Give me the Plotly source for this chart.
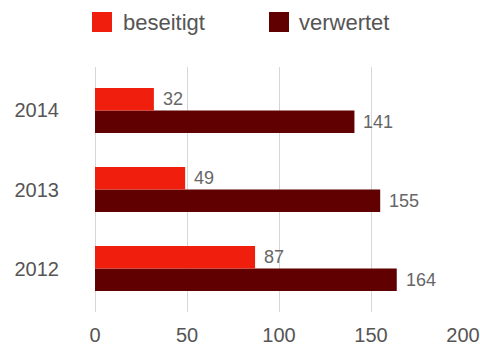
import plotly.graph_objects as go

# Waste quantities per year
years = ["2012", "2013", "2014"]
beseitigt = [87, 49, 32]
verwertet = [164, 155, 141]
x_ticks = [0, 50, 100, 150, 200]

RED = "#f01e0c"
DARK = "#600000"
GRID = "#d6d6d6"
TEXT = "#555555"
LABEL = "#666666"
FONT = "Liberation Sans, Arial, sans-serif"

W, H = 480, 345
L, R, T, B = 95, 17, 67, 33
PW, PH = W - L - R, H - T - B


def px_x(px):
    return (px - L) / PW


def px_y(py):
    return (H - B - py) / PH


fig = go.Figure()
# dark bars are added first so they sit below the red ones in each group
fig.add_trace(go.Bar(y=years, x=verwertet, orientation="h", name="verwertet",
                     marker=dict(color=DARK, line=dict(width=0))))
fig.add_trace(go.Bar(y=years, x=beseitigt, orientation="h", name="beseitigt",
                     marker=dict(color=RED, line=dict(width=0))))

# value labels next to each bar end
annotations = []
for i, yr in enumerate(years):
    for vals, off in ((beseitigt, 0.14), (verwertet, -0.14)):
        annotations.append(dict(
            x=vals[i], y=i + off, xref="x", yref="y",
            text=str(vals[i]), showarrow=False, xanchor="left", yanchor="middle",
            xshift=7, font=dict(family=FONT, size=18, color=LABEL)))

# legend drawn as squares with captions
shapes = []
for name, color, x0, tx in (("beseitigt", RED, 92, 121), ("verwertet", DARK, 269, 297)):
    shapes.append(dict(type="rect", xref="paper", yref="paper",
                       x0=px_x(x0), x1=px_x(x0 + 20), y0=px_y(32), y1=px_y(12),
                       fillcolor=color, line=dict(width=0)))
    annotations.append(dict(x=px_x(tx), y=px_y(22), xref="paper", yref="paper",
                            text=name, showarrow=False, xanchor="left", yanchor="middle",
                            font=dict(family=FONT, size=22, color=TEXT)))

fig.update_layout(
    width=W, height=H,
    margin=dict(l=L, r=R, t=T, b=B, pad=0, autoexpand=False),
    paper_bgcolor="white", plot_bgcolor="white",
    barmode="group", bargap=0.43, bargroupgap=0,
    showlegend=False,
    shapes=shapes, annotations=annotations,
    xaxis=dict(range=[0, 200], tickvals=x_ticks, showgrid=True, gridcolor=GRID,
               gridwidth=1, zeroline=True, zerolinecolor=GRID, zerolinewidth=1,
               showline=False, ticks="", automargin=False,
               tickfont=dict(family=FONT, size=20, color=TEXT), ticklabelstandoff=9),
    yaxis=dict(range=[-0.55, 2.55], showgrid=False, zeroline=False, showline=False,
               ticks="", automargin=False, tickfont=dict(family=FONT, size=20, color=TEXT),
               ticklabelstandoff=35),
)

fig.write_html("out.html")
